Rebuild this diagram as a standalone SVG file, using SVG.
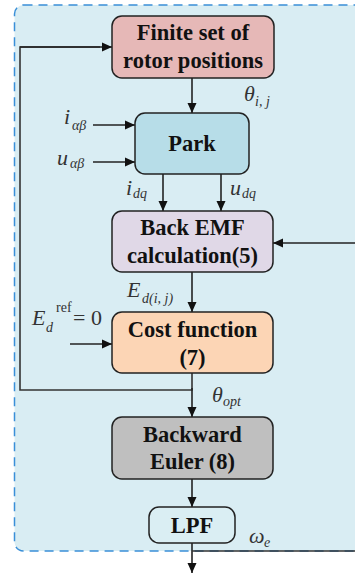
<svg xmlns="http://www.w3.org/2000/svg" width="355" height="575" viewBox="0 0 355 575">
<style>
.bx{stroke:#222;stroke-width:1.5}
.ln{fill:none;stroke:#333;stroke-width:1.6}
.ar{fill:none;stroke:#222;stroke-width:1.6;marker-end:url(#ah)}
</style>
<defs>
<marker id="ah" viewBox="0 0 10 10" refX="10" refY="5" markerWidth="10" markerHeight="10" markerUnits="userSpaceOnUse" orient="auto">
<path d="M0,0.5 L10,5 L0,9.5 z" fill="#111"/>
</marker>
</defs>
<rect id="background" x="14.5" y="5" width="400" height="546" rx="9" fill="#d9edf3" stroke="#3a8fd8" stroke-width="1.5" stroke-dasharray="9 6"/>

<g id="connectors">
<line class="ar" x1="192" y1="78" x2="192" y2="113"/>
<line class="ar" x1="93" y1="125" x2="135" y2="125"/>
<line class="ar" x1="93" y1="162" x2="135" y2="162"/>
<line class="ar" x1="163" y1="174" x2="163" y2="211"/>
<line class="ar" x1="221" y1="174" x2="221" y2="211"/>
<line class="ar" x1="360" y1="243" x2="273" y2="243"/>
<line class="ar" x1="192" y1="272" x2="192" y2="312"/>
<line class="ar" x1="70" y1="344" x2="112" y2="344"/>
<polyline class="ln" points="192,373 192,390 20,390 20,47 100,47"/>
<line class="ar" x1="20" y1="47" x2="112" y2="47"/>
<line class="ar" x1="192" y1="388" x2="192" y2="417"/>
<line class="ar" x1="192" y1="479" x2="192" y2="507"/>
<line class="ar" x1="192" y1="543" x2="192" y2="573"/>
<line class="ln" x1="192" y1="551" x2="360" y2="551"/>
</g>

<g id="finite-set" font-family="Liberation Serif" font-weight="bold" font-size="22.5" fill="#111" text-anchor="middle">
<rect class="bx" x="112" y="16" width="162" height="62" rx="10" fill="#e6b8b7"/>
<text x="193" y="40" font-family="Liberation Serif">Finite set of</text>
<text x="193" y="68" font-family="Liberation Serif">rotor positions</text>
</g>

<g id="park" font-family="Liberation Serif" font-weight="bold" font-size="22.5" fill="#111" text-anchor="middle">
<rect class="bx" x="135" y="113" width="114" height="61" rx="10" fill="#b7dde8"/>
<text x="192" y="151" font-family="Liberation Serif">Park</text>
</g>

<g id="back-emf" font-family="Liberation Serif" font-weight="bold" font-size="22.5" fill="#111" text-anchor="middle">
<rect class="bx" x="112" y="211" width="161" height="61" rx="10" fill="#e0d8e7"/>
<text x="192.5" y="235" font-family="Liberation Serif">Back EMF</text>
<text x="192.5" y="263" font-family="Liberation Serif">calculation(5)</text>
</g>

<g id="cost-function" font-family="Liberation Serif" font-weight="bold" font-size="22.5" fill="#111" text-anchor="middle">
<rect class="bx" x="112" y="312" width="161" height="61" rx="10" fill="#fcd5b5"/>
<text x="192.5" y="337" font-family="Liberation Serif">Cost function</text>
<text x="192.5" y="365" font-family="Liberation Serif">(7)</text>
</g>

<g id="backward-euler" font-family="Liberation Serif" font-weight="bold" font-size="22.5" fill="#111" text-anchor="middle">
<rect class="bx" x="112" y="417" width="161" height="62" rx="10" fill="#bfbfbf"/>
<text x="192.5" y="442" font-family="Liberation Serif">Backward</text>
<text x="192.5" y="469" font-family="Liberation Serif">Euler (8)</text>
</g>

<g id="lpf" font-family="Liberation Serif" font-weight="bold" font-size="22.5" fill="#111" text-anchor="middle">
<rect class="bx" x="149" y="507" width="86" height="36" rx="10" fill="#daeef3"/>
<text x="192" y="533" font-family="Liberation Serif">LPF</text>
</g>

<g id="labels" font-family="Liberation Serif" fill="#333" font-style="italic">
<text x="244" y="101" font-family="Liberation Serif" font-size="22">θ</text><text x="255" y="106" font-family="Liberation Serif" font-size="14">i, j</text>
<text x="64" y="124" font-family="Liberation Serif" font-size="22">i</text><text x="72" y="130" font-family="Liberation Serif" font-size="14">αβ</text>
<text x="57" y="165" font-family="Liberation Serif" font-size="22">u</text><text x="70" y="168" font-family="Liberation Serif" font-size="14">αβ</text>
<text x="126" y="195" font-family="Liberation Serif" font-size="22">i</text><text x="133" y="198" font-family="Liberation Serif" font-size="14">dq</text>
<text x="230" y="195" font-family="Liberation Serif" font-size="22">u</text><text x="242" y="198" font-family="Liberation Serif" font-size="14">dq</text>
<text x="127" y="297" font-family="Liberation Serif" font-size="22">E</text><text x="142" y="303" font-family="Liberation Serif" font-size="14">d(i, j)</text>
<text x="32" y="325" font-family="Liberation Serif" font-size="22">E</text><text x="46" y="332" font-family="Liberation Serif" font-size="14">d</text><text x="56" y="312" font-family="Liberation Serif" font-size="14" font-style="normal">ref</text><text x="73" y="325" font-family="Liberation Serif" font-size="22" font-style="normal">= 0</text>
<text x="212" y="402" font-family="Liberation Serif" font-size="22">θ</text><text x="223" y="406" font-family="Liberation Serif" font-size="14">opt</text>
<text x="249" y="543" font-family="Liberation Serif" font-size="22">ω</text><text x="264" y="547" font-family="Liberation Serif" font-size="14">e</text>
</g>
</svg>
